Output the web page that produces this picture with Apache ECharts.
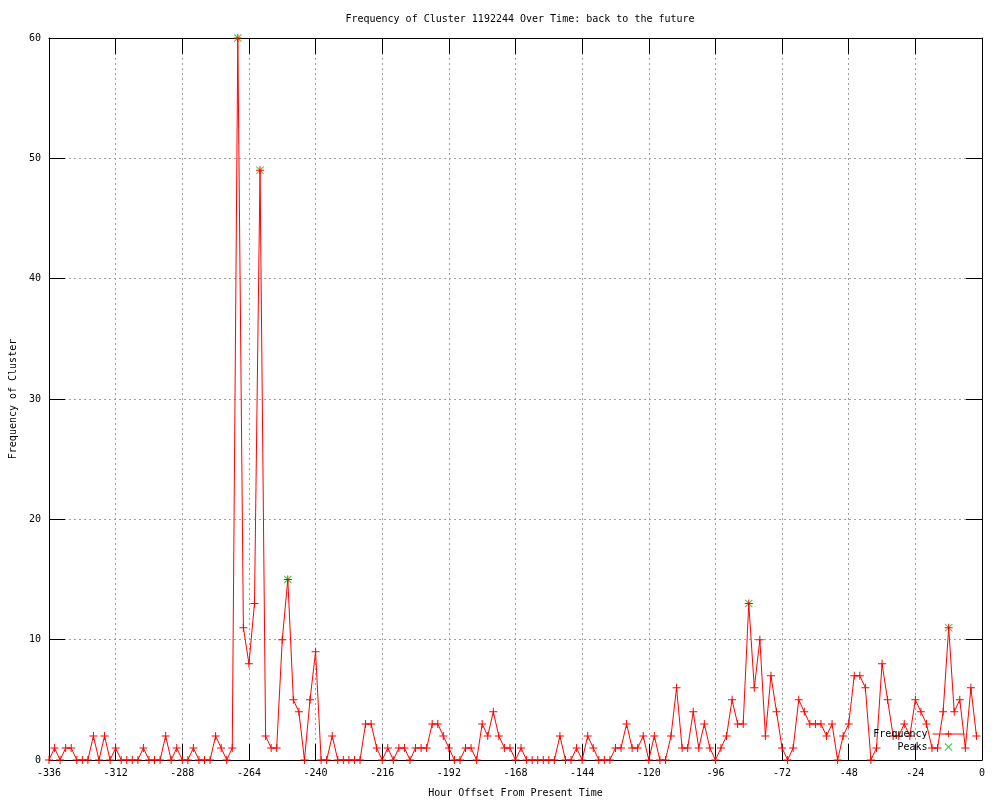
<!DOCTYPE html>
<html>
<head>
<meta charset="utf-8">
<script src="https://cdn.jsdelivr.net/npm/echarts@6/dist/echarts.min.js"></script>
<style>
html,body{margin:0;padding:0;background:#fff;}
#chart{width:1000px;height:800px;}
</style>
</head>
<body>
<div id="chart"></div>
<script>
const hours = [
-336,-334,-332,-330,-328,-326,-324,-322,-320,-318,-316,-314,
-312,-310,-308,-306,-304,-302,-300,-298,-296,-294,-292,-290,
-288,-286,-284,-282,-280,-278,-276,-274,-272,-270,-268,-266,
-264,-262,-260,-258,-256,-254,-252,-250,-248,-246,-244,-242,
-240,-238,-236,-234,-232,-230,-228,-226,-224,-222,-220,-218,
-216,-214,-212,-210,-208,-206,-204,-202,-200,-198,-196,-194,
-192,-190,-188,-186,-184,-182,-180,-178,-176,-174,-172,-170,
-168,-166,-164,-162,-160,-158,-156,-154,-152,-150,-148,-146,
-144,-142,-140,-138,-136,-134,-132,-130,-128,-126,-124,-122,
-120,-118,-116,-114,-112,-110,-108,-106,-104,-102,-100,-98,
-96,-94,-92,-90,-88,-86,-84,-82,-80,-78,-76,-74,
-72,-70,-68,-66,-64,-62,-60,-58,-56,-54,-52,-50,
-48,-46,-44,-42,-40,-38,-36,-34,-32,-30,-28,-26,
-24,-22,-20,-18,-16,-14,-12,-10,-8,-6,-4,-2
];
const frequency = [
0,1,0,1,1,0,0,0,2,0,
2,0,1,0,0,0,0,1,0,0,
0,2,0,1,0,0,1,0,0,0,
2,1,0,1,60,11,8,13,49,2,
1,1,10,15,5,4,0,5,9,0,
0,2,0,0,0,0,0,3,3,1,
0,1,0,1,1,0,1,1,1,3,
3,2,1,0,0,1,1,0,3,2,
4,2,1,1,0,1,0,0,0,0,
0,0,2,0,0,1,0,2,1,0,
0,0,1,1,3,1,1,2,0,2,
0,0,2,6,1,1,4,1,3,1,
0,1,2,5,3,3,13,6,10,2,
7,4,1,0,1,5,4,3,3,3,
2,3,0,2,3,7,7,6,0,1,
8,5,2,2,3,2,5,4,3,1,
1,4,11,4,5,1,6,2
];
const peakHours = [-268,-260,-250,-84,-12];
const peakValues = [60,49,15,13,11];

const FONT = '"DejaVu Sans Mono", "Liberation Mono", monospace';
const plusPath = 'path://M3.5,0H4.5V8H3.5ZM0,3.5H8V4.5H0Z';
const crossPath = 'path://M0,0.7L0.7,0L8,7.3L7.3,8ZM7.3,0L8,0.7L0.7,8L0,7.3Z';

const chart = echarts.init(document.getElementById('chart'), null, {renderer:'canvas'});
const tickStyle = {show:true, inside:true, length:16, lineStyle:{color:'#000', width:1}};
const gridLine = {show:true, lineStyle:{color:'#a0a0a0', type:[2,3], width:1}};
const axisLineStyle = {show:true, onZero:false, lineStyle:{color:'#000', width:1}};
chart.setOption({
  animation:false,
  backgroundColor:'#fff',
  title:{
    text:'Frequency of Cluster 1192244 Over Time: back to the future',
    left:515, top:9, textAlign:'center',
    textStyle:{fontFamily:FONT, fontSize:10, fontWeight:'normal', color:'#000'}
  },
  grid:{left:49, right:18, top:38, bottom:40, containLabel:false, outerBoundsMode:'none'},
  legend:{
    orient:'vertical', right:30, top:724, align:'right',
    itemWidth:32, itemHeight:8, itemGap:3,
    lineStyle:{width:1},
    textStyle:{fontFamily:FONT, fontSize:10, color:'#000', width:60, align:'right'},
    data:['Frequency','Peaks']
  },
  xAxis:[{
    type:'value', min:-336, max:0, interval:24, position:'bottom',
    name:'Hour Offset From Present Time', nameLocation:'middle', nameGap:28,
    nameTextStyle:{fontFamily:FONT, fontSize:10, color:'#000'},
    axisLine:axisLineStyle,
    axisTick:tickStyle,
    axisLabel:{fontFamily:FONT, fontSize:10, color:'#000', margin:8},
    splitLine:gridLine
  },{
    type:'value', min:-336, max:0, interval:24, position:'top',
    axisLine:axisLineStyle,
    axisTick:tickStyle, axisLabel:{show:false}, splitLine:{show:false}
  }],
  yAxis:[{
    type:'value', min:0, max:60, interval:10, position:'left',
    name:'Frequency of Cluster', nameLocation:'middle', nameGap:31, nameRotate:90,
    nameTextStyle:{fontFamily:FONT, fontSize:10, color:'#000'},
    axisLine:axisLineStyle,
    axisTick:tickStyle,
    axisLabel:{fontFamily:FONT, fontSize:10, color:'#000', margin:8},
    splitLine:gridLine
  },{
    type:'value', min:0, max:60, interval:10, position:'right',
    axisLine:axisLineStyle,
    axisTick:tickStyle, axisLabel:{show:false}, splitLine:{show:false}
  }],
  series:[{
    name:'Frequency', type:'line',
    data:hours.map((h,i)=>[h, frequency[i]]),
    symbol:plusPath, symbolSize:8, showSymbol:true,
    itemStyle:{color:'#ff0000'},
    lineStyle:{color:'#ff0000', width:1},
    emphasis:{disabled:true}
  },{
    name:'Peaks', type:'scatter',
    data:peakHours.map((h,i)=>[h, peakValues[i]]),
    symbol:crossPath, symbolSize:8,
    itemStyle:{color:'#00c000'},
    emphasis:{disabled:true}
  }]
});
</script>
</body>
</html>
